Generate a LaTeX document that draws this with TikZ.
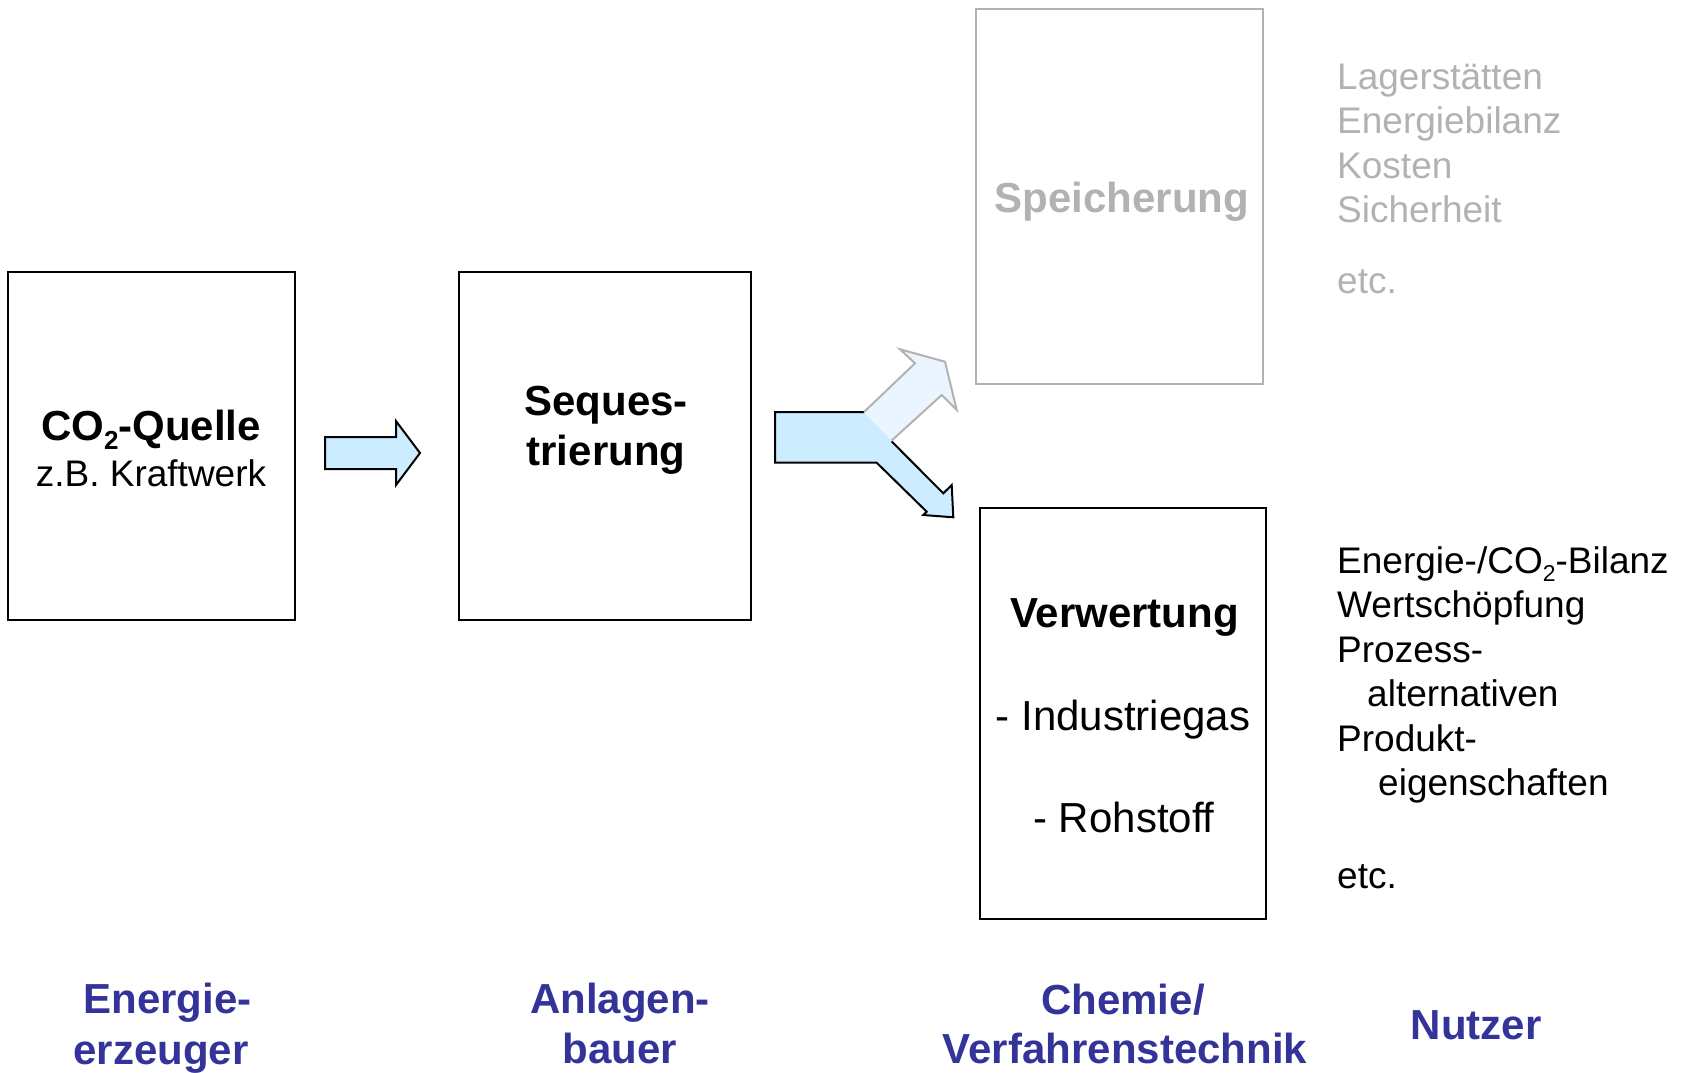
\documentclass[tikz,border=0pt]{standalone}
\usepackage{fontspec}
\setmainfont{Liberation Sans}
\usepackage{graphicx}
\definecolor{labelblue}{RGB}{51,51,153}
\definecolor{lightgray}{RGB}{178,178,178}
\definecolor{arrowblue}{RGB}{204,236,255}
\definecolor{arrowpale}{RGB}{235,245,255}
\newcommand{\lowtwo}{\raisebox{-0.22em}{\scalebox{0.62}{2}}}
\begin{document}
\begin{tikzpicture}[x=1pt,y=-1pt,
  box/.style={draw=black, line width=2pt, inner sep=0pt, fill=white},
  graybox/.style={draw=lightgray, line width=2pt, inner sep=0pt, fill=white},
  regtxt/.style={font=\fontsize{42}{50}\selectfont, anchor=base, inner sep=0pt},
  boldtxt/.style={font=\bfseries\fontsize{42}{50}\selectfont, anchor=base, inner sep=0pt},
  listtxt/.style={font=\fontsize{37}{44}\selectfont, anchor=base west, inner sep=0pt},
  lbltxt/.style={font=\bfseries\fontsize{42}{50}\selectfont, text=labelblue, anchor=base, inner sep=0pt},
  blockedge/.style={draw=black, line width=2pt, line join=miter},
  paleedge/.style={draw=lightgray, line width=2pt, line join=miter}
]
\useasboundingbox (0,0) rectangle (1690,1072);
\fill[white] (0,0) rectangle (1690,1072);

% boxes
\node[box, minimum width=287pt, minimum height=348pt] (quelle) at (151.5,446) {};
\node[box, minimum width=292pt, minimum height=348pt] (seq) at (605,446) {};
\node[graybox, minimum width=287pt, minimum height=375pt] (speich) at (1119.5,196.5) {};
\node[box, minimum width=286pt, minimum height=411pt] (verw) at (1123,713.5) {};

% box texts
\node[boldtxt] (tq1) at (151,440) {CO\lowtwo-Quelle};
\node[font=\fontsize{37}{44}\selectfont, anchor=base, inner sep=0pt] (tq2) at (151,486) {z.B. Kraftwerk};
\node[boldtxt] (ts1) at (606,415) {Seques-};
\node[boldtxt] (ts2) at (606,465) {trierung};
\node[boldtxt, text=lightgray] (tsp) at (1122,212) {Speicherung};
\node[boldtxt] (tv1) at (1124.5,627) {Verwertung};
\node[regtxt] (tv2) at (1123,730) {- Industriegas};
\node[regtxt] (tv3) at (1124,832) {- Rohstoff};

% gray list
\node[listtxt, text=lightgray] (g1) at (1337,89) {Lagerstätten};
\node[listtxt, text=lightgray] (g2) at (1337,133.5) {Energiebilanz};
\node[listtxt, text=lightgray] (g3) at (1337,178) {Kosten};
\node[listtxt, text=lightgray] (g4) at (1337,222.5) {Sicherheit};
\node[listtxt, text=lightgray] (g5) at (1337,293) {etc.};

% black list
\node[listtxt] (b1) at (1337,573) {Energie-/CO\lowtwo-Bilanz};
\node[listtxt] (b2) at (1337,617.5) {Wertschöpfung};
\node[listtxt] (b3) at (1337,662) {Prozess-};
\node[listtxt] (b4) at (1367,706.5) {alternativen};
\node[listtxt] (b5) at (1337,751) {Produkt-};
\node[listtxt] (b6) at (1378,795.5) {eigenschaften};
\node[listtxt] (b7) at (1337,888) {etc.};

% bottom labels
\node[lbltxt] (l1a) at (167.5,1013) {Energie-};
\node[lbltxt] (l1b) at (161,1064) {erzeuger};
\node[lbltxt] (l2a) at (620,1013) {Anlagen-};
\node[lbltxt] (l2b) at (620,1063) {bauer};
\node[lbltxt] (l3a) at (1123,1014) {Chemie/};
\node[lbltxt] (l3b) at (1125,1063) {Verfahrenstechnik};
\node[lbltxt] (l4) at (1476,1039) {Nutzer};

% arrow 1
\filldraw[fill=arrowblue, blockedge] (325,437) -- (396,437) -- (396,421) -- (420,453) -- (396,485) -- (396,469) -- (325,469) -- cycle;

% split arrow: blue body and lower branch
\fill[arrowblue] (775,412) -- (864,412) -- (891.7,440.5) -- (943.3,493.3) -- (951.7,485) -- (953.3,517.3) -- (923.3,515) -- (926.7,511.7) -- (876.7,462.7) -- (775,462.7) -- cycle;
% upper pale branch
\fill[arrowpale] (864,412) -- (915,363.3) -- (900,349.3) -- (945,361.7) -- (956.7,410) -- (941.7,395) -- (891.7,440.5) -- cycle;
\draw[blockedge] (864,412) -- (775,412) -- (775,462.7) -- (876.7,462.7) -- (926.7,511.7) -- (923.3,515) -- (953.3,517.3) -- (951.7,485) -- (943.3,493.3) -- (891.7,441.5);
\draw[paleedge] (864,412) -- (915,363.3) -- (900,349.3) -- (945,361.7) -- (956.7,410) -- (941.7,395) -- (891.7,440.5);
\end{tikzpicture}
\end{document}
